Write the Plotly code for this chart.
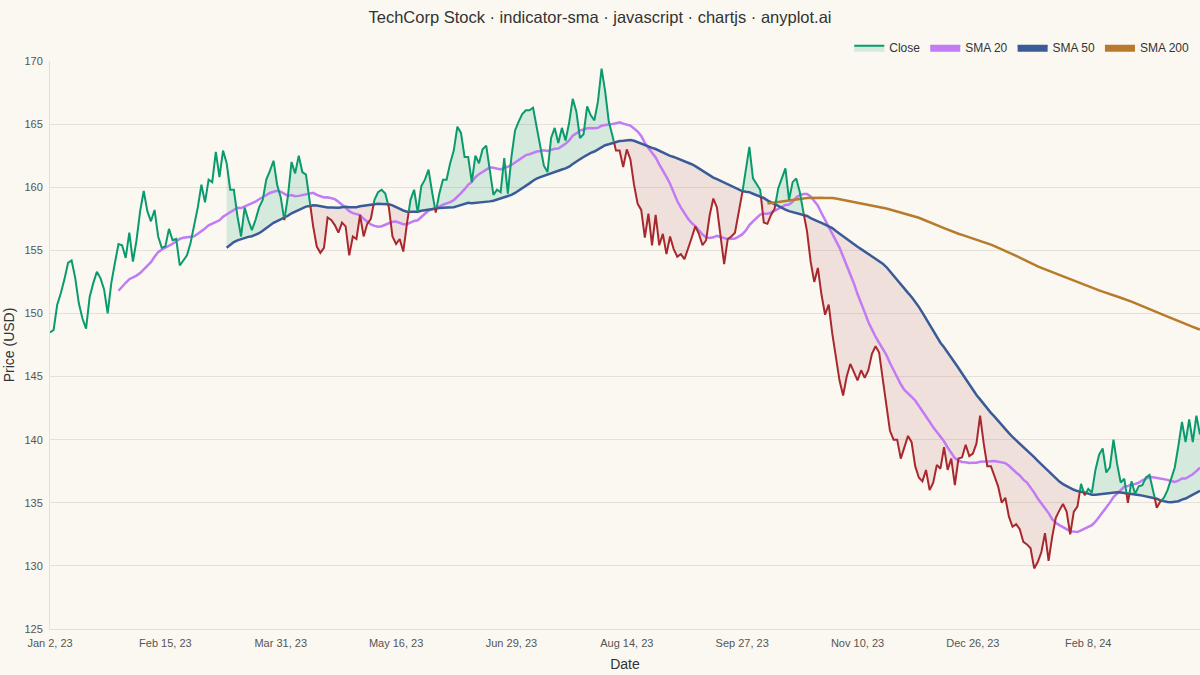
import numpy as np
import pandas as pd
import plotly.graph_objects as go

# daily closing prices (business days from Jan 2, 2023)
CLOSE = [
    148.5, 148.7, 150.7, 151.6, 152.7, 154.0, 154.2, 152.8, 150.8, 149.6,
    148.8, 151.3, 152.4, 153.3, 152.8, 151.9, 150.0, 152.4, 154.0, 155.5,
    155.4, 154.4, 156.4, 154.1, 155.8, 158.1, 159.7, 158.1, 157.3, 158.2,
    156.1, 155.2, 155.3, 156.7, 155.8, 155.9, 153.8, 154.2, 154.6, 155.6,
    156.9, 158.4, 160.2, 158.8, 160.6, 160.4, 162.8, 160.8, 162.9, 161.9,
    159.8, 159.8, 157.7, 156.1, 158.4, 157.4, 156.6, 157.4, 158.4, 159.0,
    160.6, 161.3, 162.1, 160.2, 159.2, 157.4, 159.3, 162.0, 161.1, 162.5,
    161.2, 161.0, 159.0, 156.9, 155.3, 154.8, 155.2, 157.6, 157.4, 157.0,
    156.4, 157.2, 156.9, 154.6, 156.1, 155.9, 157.8, 156.1, 157.1, 157.5,
    159.0, 159.6, 159.8, 159.5, 158.4, 156.1, 155.5, 155.9, 154.9, 157.1,
    159.0, 159.8, 158.0, 160.1, 160.6, 161.4, 159.6, 158.0, 159.5, 160.6,
    160.6, 161.9, 162.9, 164.8, 164.3, 162.4, 162.4, 160.4, 162.5, 161.9,
    163.0, 163.3, 161.3, 159.4, 159.8, 159.6, 162.3, 159.5, 162.4, 164.5,
    165.2, 165.8, 166.1, 166.1, 166.3, 164.8, 163.1, 161.7, 161.2, 163.9,
    164.7, 163.5, 164.7, 163.7, 165.1, 167.0, 166.0, 163.9, 164.2, 166.4,
    165.7, 165.3, 166.8, 169.4, 167.6, 165.2, 164.1, 162.9, 162.9, 161.6,
    163.0, 162.2, 160.2, 158.7, 158.2, 156.0, 157.9, 155.4, 157.8, 155.4,
    156.3, 154.7, 156.1, 155.1, 154.5, 154.7, 154.3, 155.1, 156.0, 156.9,
    156.3, 155.4, 155.8, 157.8, 159.1, 158.4, 156.1, 153.9, 155.9, 156.1,
    156.4, 157.9, 159.5, 161.2, 163.2, 160.7, 160.3, 159.8, 157.2, 157.1,
    157.8, 158.3, 159.9, 160.7, 161.5, 159.0, 160.4, 160.7, 159.6, 158.0,
    156.5, 154.1, 152.5, 153.6, 151.5, 149.9, 150.7, 148.4, 146.6, 144.7,
    143.5, 145.0, 146.0, 145.3, 144.7, 145.5, 144.9, 145.5, 146.8, 147.4,
    146.9, 144.8, 142.6, 140.7, 140.0, 140.0, 138.5, 139.5, 140.3, 139.8,
    137.9, 137.0, 136.7, 137.6, 136.0, 136.6, 138.0, 137.7, 139.4, 137.6,
    138.5, 136.4, 138.5, 138.6, 139.6, 138.7, 138.9, 139.7, 141.9, 139.7,
    137.9, 137.9, 137.1, 136.3, 135.0, 135.4, 133.9, 133.1, 133.3, 132.9,
    131.9, 131.7, 131.4, 129.8, 130.3, 131.1, 132.6, 130.4, 132.3, 133.8,
    134.4, 134.9, 134.3, 132.5, 134.3, 134.7, 136.5, 135.6, 136.1, 135.8,
    137.6, 138.8, 139.3, 137.4, 137.8, 140.0, 138.1, 136.6, 136.9, 135.0,
    136.7, 135.7, 136.3, 136.4, 137.0, 137.2, 136.0, 134.6, 135.1, 135.4,
    136.0, 136.9, 137.8, 139.5, 141.4, 139.8, 141.6, 139.8, 141.9, 140.4,
]
START_DATE = "2023-01-02"
SMA_WINDOWS = [20, 50, 200]
SMA_NAMES = ["SMA 20", "SMA 50", "SMA 200"]
Y_TICKS = [125, 130, 135, 140, 145, 150, 155, 160, 165, 170]
TICK_EVERY = 32

GREEN = "#0A9A6E"
RED = "#A8282D"
GREEN_FILL = "rgba(10,154,110,0.15)"
RED_FILL = "rgba(168,40,45,0.11)"
SMA_COLORS = ["#C17BF4", "#3A5B98", "#B87A2C"]
BG = "#FAF8F1"
GRID = "#E4E1DA"
FONT = "Liberation Sans, Arial, sans-serif"

dates = pd.bdate_range(START_DATE, periods=len(CLOSE))
close = pd.Series(CLOSE, dtype=float)
x = np.arange(len(close))
smas = [close.rolling(w).mean() for w in SMA_WINDOWS]
sma50 = smas[1].values
c = close.values

fig = go.Figure()

# split close vs SMA 50 into runs above / below, cutting at the crossings
first = SMA_WINDOWS[1] - 1
runs = []
cur = {"up": c[first] >= sma50[first], "x": [x[first]], "c": [c[first]], "s": [sma50[first]]}
for i in range(first, len(c) - 1):
    d0 = c[i] - sma50[i]
    d1 = c[i + 1] - sma50[i + 1]
    if (d0 >= 0) != (d1 >= 0):
        t = d0 / (d0 - d1)
        xc = i + t
        yc = c[i] + t * (c[i + 1] - c[i])
        cur["x"].append(xc); cur["c"].append(yc); cur["s"].append(yc)
        runs.append(cur)
        cur = {"up": d1 >= 0, "x": [xc], "c": [yc], "s": [yc]}
    cur["x"].append(x[i + 1]); cur["c"].append(c[i + 1]); cur["s"].append(sma50[i + 1])
runs.append(cur)

for r in runs:
    fig.add_trace(go.Scatter(
        x=list(r["x"]) + list(r["x"])[::-1],
        y=list(r["c"]) + list(r["s"])[::-1],
        fill="toself", fillcolor=GREEN_FILL if r["up"] else RED_FILL,
        line=dict(width=0), mode="lines", hoverinfo="skip", showlegend=False))

# moving averages
for sma, col, name in zip(smas, SMA_COLORS, SMA_NAMES):
    fig.add_trace(go.Scatter(x=x, y=sma, mode="lines", name=name,
                             line=dict(color=col, width=2.5), showlegend=False))

# close line: green before SMA 50 exists, then coloured by run
fig.add_trace(go.Scatter(x=x[:first + 1], y=c[:first + 1], mode="lines",
                         line=dict(color=GREEN, width=2), showlegend=False))
for r in runs:
    fig.add_trace(go.Scatter(x=r["x"], y=r["c"], mode="lines",
                             line=dict(color=GREEN if r["up"] else RED, width=2),
                             showlegend=False))

# legend entries (box style like chart.js)
fig.add_trace(go.Scatter(x=[None], y=[None], name="Close", mode="lines", fill="toself",
                         fillcolor="rgba(10,154,110,0.15)", line=dict(color=GREEN, width=2)))
for col, name in zip(SMA_COLORS, SMA_NAMES):
    fig.add_trace(go.Scatter(x=[None], y=[None], name=name, mode="lines", fill="toself",
                             fillcolor=col, line=dict(color=col, width=2)))

fig.update_layout(
    width=1200, height=675,
    paper_bgcolor=BG, plot_bgcolor=BG,
    font=dict(family=FONT, color="#333333", size=12),
    margin=dict(l=50, r=0, t=61, b=46),
    title=dict(text="TechCorp Stock · indicator-sma · javascript · chartjs · anyplot.ai",
               x=0.5, xref="container", y=0.975, yanchor="middle",
               font=dict(size=16.5, color="#333333")),
    legend=dict(orientation="h", x=0.995, xanchor="right", y=0.998, yanchor="bottom",
                font=dict(size=12, color="#333333"), bgcolor="rgba(0,0,0,0)",
                itemwidth=30, tracegroupgap=0),
    hovermode="x",
)
fig.update_xaxes(
    range=[0, len(c) - 1], tickvals=x[::TICK_EVERY],
    ticktext=[d.strftime("%b %-d, %y") for d in dates[::TICK_EVERY]],
    showgrid=False, zeroline=False, showline=True, linecolor=GRID,
    tickfont=dict(size=11, color="#555555"), ticklabelstandoff=4,
    title=dict(text="Date", font=dict(size=14, color="#333333"), standoff=10),
)
fig.update_yaxes(
    range=[125, 170], tickvals=Y_TICKS, gridcolor=GRID, zeroline=False,
    showline=True, linecolor=GRID,
    tickfont=dict(size=11, color="#555555"), ticklabelstandoff=4,
    title=dict(text="Price (USD)", font=dict(size=14, color="#333333"), standoff=6),
)

fig.write_html("out.html", config={"displayModeBar": False},
               post_script="document.body.style.margin='0';document.body.style.overflow='hidden';")
